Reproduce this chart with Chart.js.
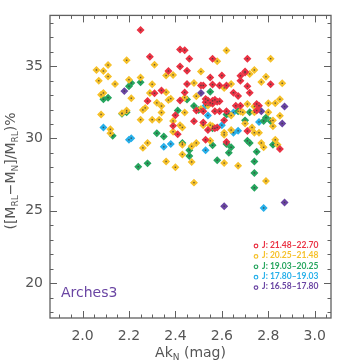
<!DOCTYPE html>
<html>
<head>
<meta charset="utf-8">
<script src="https://cdn.jsdelivr.net/npm/chart.js@4.4.1/dist/chart.umd.min.js"></script>
<style>
  html, body { margin: 0; padding: 0; background: #fff; }
</style>
</head>
<body>
<canvas id="chart" width="341" height="364"></canvas>
<script>
// J-band bins, faintest first
const binLabels = ["J: 21.48\u201322.70", "J: 20.25\u201321.48", "J: 19.03\u201320.25", "J: 17.80\u201319.03", "J: 16.58\u201317.80"];
const binColors = ["#ea3344", "#f6c12b", "#26a55e", "#28b0ea", "#6a45a3"];

const xTicks = [2.0, 2.2, 2.4, 2.6, 2.8, 3.0];
const yTicks = [20, 25, 30, 35];

// [Ak_N, ([M_RL - M_N]/M_RL)%]
const jBin1 = [
  [2.25,37.49],[2.29,35.65],[2.42,36.14],[2.44,36.10],[2.46,35.51],[2.42,34.97],[2.45,34.68],[2.37,34.66],
  [2.56,35.51],[2.71,35.51],[2.70,34.62],[2.70,34.55],[2.55,34.21],[2.60,34.35],[2.68,34.33],[2.68,33.99],
  [2.45,33.76],[2.51,33.66],[2.52,33.66],[2.56,33.72],[2.59,33.66],[2.62,33.66],[2.71,33.61],[2.81,33.74],
  [2.34,33.32],[2.31,33.12],[2.44,33.18],[2.65,33.16],[2.67,32.94],[2.72,33.16],
  [2.53,32.73],[2.54,32.63],[2.56,32.60],[2.57,32.67],[2.53,32.50],[2.55,32.46],[2.58,32.53],[2.56,32.40],[2.59,32.57],
  [2.28,32.58],[2.42,32.62],[2.49,31.93],[2.52,31.88],[2.57,31.88],[2.59,31.88],[2.62,31.88],[2.66,32.26],
  [2.68,32.26],[2.75,32.38],[2.75,31.93],[2.76,32.26],[2.40,31.61],[2.48,31.19],[2.52,31.10],[2.39,30.87],
  [2.41,30.29],[2.54,30.58],[2.57,30.70],[2.58,30.76],[2.61,31.25],[2.71,30.51],[2.53,29.91],[2.62,29.75],[2.85,29.28]
];
const jBin2 = [
  [2.62,36.08],[2.58,35.34],[2.81,35.51],[2.19,35.40],[2.31,35.09],[2.11,35.07],[2.06,34.73],[2.09,34.66],
  [2.51,34.62],[2.74,34.73],[2.72,34.46],[2.79,34.26],[2.11,34.28],[2.36,34.35],[2.39,34.39],[2.25,34.21],
  [2.20,34.06],[2.07,33.99],[2.14,33.76],[2.30,33.74],[2.48,33.83],[2.61,33.49],[2.64,33.76],[2.77,33.90],
  [2.86,33.81],[2.36,33.20],[2.29,33.14],[2.09,33.14],[2.08,33.02],[2.21,32.78],[2.38,32.75],[2.37,32.65],
  [2.32,32.46],[2.44,32.82],[2.49,32.92],[2.34,32.24],[2.27,32.11],[2.26,31.97],[2.19,31.93],[2.17,31.75],
  [2.34,31.79],[2.44,31.79],[2.08,31.66],[2.54,32.28],[2.71,32.38],[2.74,32.20],[2.80,32.44],[2.83,32.44],
  [2.85,32.71],[2.69,31.81],[2.80,31.81],[2.74,31.81],[2.68,31.86],[2.85,31.57],[2.82,31.25],[2.82,30.85],
  [2.64,31.59],[2.70,31.03],[2.52,30.92],[2.55,30.92],[2.56,30.85],[2.61,30.40],[2.61,30.25],[2.64,30.58],
  [2.73,30.76],[2.74,30.40],[2.76,30.40],[2.55,29.84],[2.47,29.46],[2.49,29.69],[2.77,29.69],[2.83,29.91],
  [2.84,29.57],[2.78,29.39],[2.61,28.30],[2.67,28.11],[2.47,28.38],[2.79,27.06],[2.48,26.95],[2.25,31.30],
  [2.30,31.30],[2.33,31.30],[2.39,31.21],[2.42,30.92],[2.43,30.76],[2.39,30.47],[2.12,30.63],[2.12,30.36],
  [2.28,29.69],[2.43,29.57],[2.26,29.35],[2.43,28.90],[2.36,28.41],[2.40,28.01],[2.51,32.04]
];
const jBin3 = [
  [2.25,33.88],[2.21,33.83],[2.20,33.61],[2.11,32.82],[2.09,32.71],[2.17,31.70],[2.19,31.81],[2.45,32.69],
  [2.48,32.24],[2.50,31.97],[2.55,33.22],[2.41,31.93],[2.67,31.88],[2.72,31.81],[2.62,31.66],[2.70,31.25],
  [2.78,31.21],[2.79,31.44],[2.81,31.21],[2.13,30.18],[2.32,30.36],[2.35,30.13],[2.46,29.19],[2.46,28.79],
  [2.43,29.69],[2.28,28.28],[2.24,28.05],[2.56,29.53],[2.62,29.62],[2.64,29.39],[2.63,29.01],[2.58,28.50],
  [2.71,29.84],[2.72,29.69],[2.82,29.57],[2.75,29.08],[2.74,28.41],[2.74,27.62],[2.74,26.59],[2.56,30.70]
];
const jBin4 = [
  [2.09,30.76],[2.21,30.02],[2.20,29.91],[2.35,29.42],[2.38,29.62],[2.53,32.26],[2.54,31.59],[2.63,31.70],
  [2.60,30.92],[2.65,30.40],[2.67,30.53],[2.76,31.14],[2.65,31.79],[2.53,29.19],[2.78,25.20]
];
const jBin5 = [
  [2.18,33.27],[2.51,33.14],[2.87,32.20],[2.77,31.88],[2.86,31.03],[2.87,25.58],[2.61,25.32]
];
const series = [jBin1, jBin2, jBin3, jBin4, jBin5];

const AXIS = "#606060";
const TEXT = "#555555";
const FONT = "'DejaVu Sans', sans-serif";

function richWidth(ctx, parts) {
  let w = 0;
  for (const [t, sub] of parts) {
    ctx.font = (sub ? "9px " : "14px ") + FONT;
    w += ctx.measureText(t).width;
  }
  return w;
}
function drawRich(ctx, parts, x, y) {
  for (const [t, sub] of parts) {
    ctx.font = (sub ? "9px " : "14px ") + FONT;
    ctx.fillText(t, x, y + (sub ? 3 : 0));
    x += ctx.measureText(t).width;
  }
}

const decor = {
  id: "decor",
  afterDatasetsDraw(chart) {
    const ctx = chart.ctx;
    ctx.save();
    ctx.fillStyle = "rgba(60,60,60,0.8)";
    chart.data.datasets.forEach((d, i) => {
      chart.getDatasetMeta(i).data.forEach(p => ctx.fillRect(p.x - 0.7, p.y - 0.7, 1.4, 1.4));
    });
    ctx.restore();
  },
  afterDraw(chart) {
    const { ctx, chartArea: a, scales: { x, y } } = chart;
    ctx.save();
    ctx.strokeStyle = AXIS;
    ctx.lineWidth = 1.3;
    ctx.strokeRect(a.left, a.top, a.right - a.left, a.bottom - a.top);
    ctx.lineWidth = 1;
    ctx.beginPath();
    for (let i = 38; i <= 61; i++) {
      const px = Math.round(x.getPixelForValue(i * 0.05)) + 0.5;
      if (px <= a.left || px >= a.right) continue;
      const len = i % 4 === 0 ? 7 : 3.5;
      ctx.moveTo(px, a.bottom); ctx.lineTo(px, a.bottom - len);
      ctx.moveTo(px, a.top); ctx.lineTo(px, a.top + len);
    }
    for (let v = 18; v <= 38; v++) {
      const py = Math.round(y.getPixelForValue(v)) + 0.5;
      const len = v % 5 === 0 ? 7 : 3.5;
      ctx.moveTo(a.left, py); ctx.lineTo(a.left + len, py);
      ctx.moveTo(a.right, py); ctx.lineTo(a.right - len, py);
    }
    ctx.stroke();

    // axis titles
    ctx.fillStyle = TEXT;
    ctx.textBaseline = "alphabetic";
    ctx.textAlign = "left";
    const xt = [["Ak", 0], ["N", 1], [" (mag)", 0]];
    drawRich(ctx, xt, (a.left + a.right) / 2 - richWidth(ctx, xt) / 2, 357);

    const yt = [["([M", 0], ["RL", 1], ["\u2212M", 0], ["N", 1], ["]/M", 0], ["RL", 1], [")%", 0]];
    ctx.save();
    ctx.translate(15, 171);
    ctx.rotate(-Math.PI / 2);
    drawRich(ctx, yt, -richWidth(ctx, yt) / 2, 0);
    ctx.restore();

    // legend
    ctx.font = "bold 8.5px Lato, sans-serif";
    ctx.textBaseline = "middle";
    binLabels.forEach((lab, i) => {
      const ly = 245 + i * 10.4;
      ctx.strokeStyle = binColors[i];
      ctx.lineWidth = 1.2;
      ctx.beginPath();
      ctx.arc(256, ly + 1, 1.8, 0, Math.PI * 2);
      ctx.stroke();
      ctx.fillStyle = binColors[i];
      ctx.fillText(lab, 262, ly);
    });

    ctx.font = "14px " + FONT;
    ctx.fillStyle = "#6a45a3";
    ctx.textBaseline = "alphabetic";
    ctx.fillText("Arches3", 61, 297);
    ctx.restore();
  }
};

new Chart(document.getElementById("chart"), {
  type: "scatter",
  data: {
    datasets: series.map((s, i) => ({
      label: binLabels[i],
      data: s.map(([px, py]) => ({ x: px, y: py })),
      pointStyle: "rectRot",
      pointRadius: 3,
      borderWidth: 1.4,
      borderColor: binColors[i],
      backgroundColor: binColors[i],
    })),
  },
  options: {
    responsive: false,
    animation: false,
    devicePixelRatio: 1,
    layout: { padding: { top: 7, right: 10, left: 0, bottom: 0 } },
    plugins: { legend: { display: false }, tooltip: { enabled: false } },
    scales: {
      x: {
        type: "linear",
        min: 1.86,
        max: 3.07,
        afterBuildTicks: s => { s.ticks = xTicks.map(v => ({ value: v })); },
        afterFit: s => { s.height = 46; },
        grid: { display: false, drawTicks: false },
        border: { display: false },
        ticks: { padding: 10, color: TEXT, font: { family: FONT, size: 14 }, callback: v => v.toFixed(1), maxRotation: 0 },
      },
      y: {
        type: "linear",
        min: 17.6,
        max: 38.5,
        afterBuildTicks: s => { s.ticks = yTicks.map(v => ({ value: v })); },
        afterFit: s => { s.width = 50; },
        grid: { display: false, drawTicks: false },
        border: { display: false },
        ticks: { padding: 7, color: TEXT, font: { family: FONT, size: 14 } },
      },
    },
  },
  plugins: [decor],
});
</script>
</body>
</html>
